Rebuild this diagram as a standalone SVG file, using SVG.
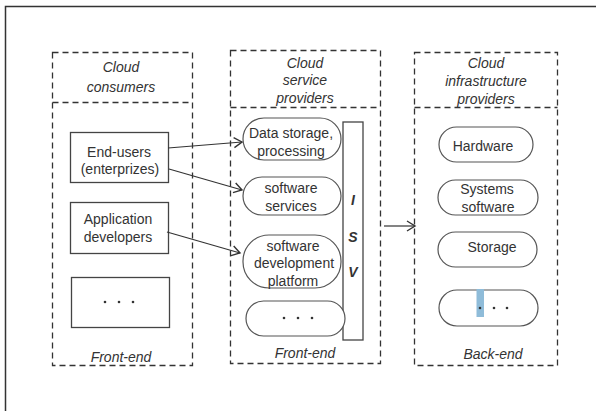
<svg xmlns="http://www.w3.org/2000/svg" width="596" height="411" viewBox="0 0 596 411">
<defs>
<style>
.frame{fill:none;stroke:#333;stroke-width:1.5}
.dash{fill:none;stroke:#333;stroke-width:1.3;stroke-dasharray:6 4}
.box{fill:#fff;stroke:#444;stroke-width:1.3}
.pill{fill:#fff;stroke:#555;stroke-width:1.2}
.t{font-family:"Liberation Sans",Arial,sans-serif;font-size:14px;fill:#333;text-anchor:middle}
.i{font-style:italic}
.b{font-weight:bold}
.dot{fill:#333}
.conn{fill:none;stroke:#333;stroke-width:1.2}
</style>
<marker id="arr" markerUnits="userSpaceOnUse" markerWidth="12" markerHeight="12" viewBox="-10 -6 12 12" refX="0" refY="0" orient="auto">
<path d="M-8,-5 L0,0 L-8,5" fill="none" stroke="#333" stroke-width="1.4"/>
</marker>
</defs>
<rect width="596" height="411" fill="#fff"/>
<path class="frame" d="M5.5,411 L5.5,6.5 L596,6.5"/>

<g id="col-consumers">
<rect class="dash" x="52.5" y="52.5" width="140" height="313"/>
<line class="dash" x1="52.5" y1="102.5" x2="192.5" y2="102.5"/>
<text class="t i" x="121" y="72">Cloud</text>
<text class="t i" x="121" y="92">consumers</text>
<text class="t i" x="121" y="362">Front-end</text>
</g>
<g id="col-service">
<rect class="dash" x="230.5" y="50.5" width="150" height="313"/>
<line class="dash" x1="230.5" y1="107.5" x2="380.5" y2="107.5"/>
<text class="t i" x="305" y="68">Cloud</text>
<text class="t i" x="305" y="85">service</text>
<text class="t i" x="305" y="103">providers</text>
<text class="t i" x="305" y="358">Front-end</text>
</g>
<g id="col-infra">
<rect class="dash" x="414.5" y="52.5" width="143" height="313"/>
<line class="dash" x1="414.5" y1="107.5" x2="557.5" y2="107.5"/>
<text class="t i" x="486" y="68">Cloud</text>
<text class="t i" x="486" y="86">infrastructure</text>
<text class="t i" x="486" y="104">providers</text>
<text class="t i" x="493" y="359">Back-end</text>
</g>

<g id="end-users">
<rect class="box" x="70.5" y="132.5" width="98" height="50"/>
<text class="t" x="119" y="157">End-users</text>
<text class="t" x="120" y="174">(enterprizes)</text>
</g>
<g id="app-dev">
<rect class="box" x="70.5" y="202.5" width="98" height="51"/>
<text class="t" x="118" y="224">Application</text>
<text class="t" x="118" y="242">developers</text>
</g>
<g id="consumer-more">
<rect class="box" x="71.5" y="277.5" width="98" height="50"/>
<circle class="dot" cx="105" cy="302" r="1.3"/>
<circle class="dot" cx="119" cy="302" r="1.3"/>
<circle class="dot" cx="133" cy="302" r="1.3"/>
</g>

<g id="data-storage">
<rect class="pill" x="243" y="118" width="98" height="42" rx="21"/>
<text class="t" x="291" y="138">Data storage,</text>
<text class="t" x="291" y="156">processing</text>
</g>
<g id="software-services">
<rect class="pill" x="243" y="177" width="98" height="38" rx="19"/>
<text class="t" x="291" y="193">software</text>
<text class="t" x="291" y="211">services</text>
</g>
<g id="sdp">
<rect class="pill" x="243" y="235" width="98" height="53" rx="26"/>
<text class="t" x="293" y="251">software</text>
<text class="t" x="294" y="268">development</text>
<text class="t" x="293" y="286">platform</text>
</g>
<g id="isv">
<rect class="box" x="343" y="122" width="20" height="218"/>
<text class="t i b" x="353" y="205">I</text>
<text class="t i b" x="353" y="242">S</text>
<text class="t i b" x="353" y="277">V</text>
</g>
<g id="service-more">
<rect class="pill" x="246" y="301" width="99" height="35" rx="17.5"/>
<circle class="dot" cx="284" cy="318" r="1.3"/>
<circle class="dot" cx="298" cy="318" r="1.3"/>
<circle class="dot" cx="312" cy="318" r="1.3"/>
</g>

<g id="hardware">
<rect class="pill" x="439" y="127" width="94" height="35" rx="17.5"/>
<text class="t" x="483" y="151">Hardware</text>
</g>
<g id="systems-software">
<rect class="pill" x="438" y="180" width="100" height="35" rx="17.5"/>
<text class="t" x="487" y="194">Systems</text>
<text class="t" x="488" y="212">software</text>
</g>
<g id="storage">
<rect class="pill" x="438" y="232" width="99" height="35" rx="17.5"/>
<text class="t" x="492" y="252">Storage</text>
</g>
<g id="infra-more">
<rect class="pill" x="439" y="290" width="99" height="36" rx="18"/>
<rect x="476.5" y="289" width="7.5" height="28" fill="#8fbcd9"/>
<circle class="dot" cx="480" cy="308" r="1.3"/>
<circle class="dot" cx="494" cy="308" r="1.3"/>
<circle class="dot" cx="507" cy="308" r="1.3"/>
</g>

<g id="connectors">
<line class="conn" x1="168" y1="148" x2="242" y2="142" marker-end="url(#arr)"/>
<line class="conn" x1="169" y1="169" x2="242" y2="190" marker-end="url(#arr)"/>
<line class="conn" x1="167" y1="232" x2="240" y2="253" marker-end="url(#arr)"/>
<line class="conn" x1="384" y1="226" x2="415" y2="226" marker-end="url(#arr)"/>
</g>
</svg>
